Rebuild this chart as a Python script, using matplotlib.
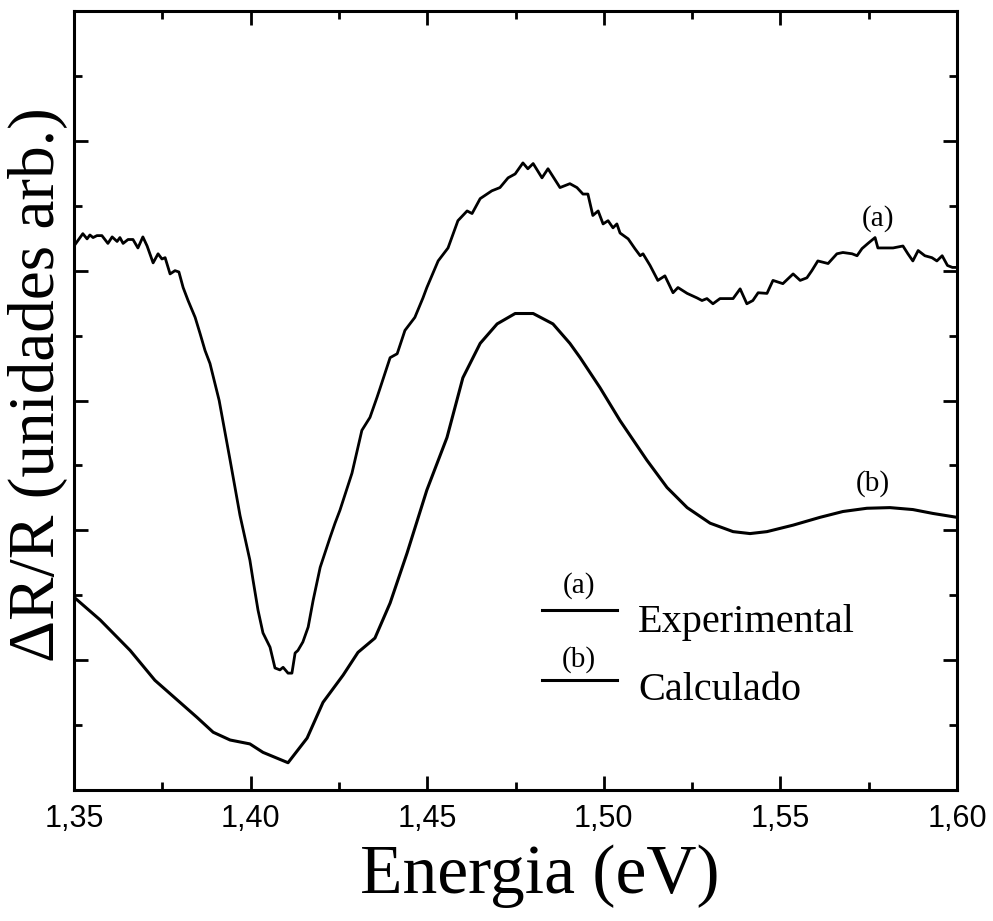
import matplotlib
matplotlib.use("Agg")
import matplotlib.pyplot as plt
from matplotlib.ticker import MultipleLocator, FixedLocator

# curve (a): experimental spectrum
energy_exp = [1.3500, 1.3517, 1.3525, 1.3537, 1.3545, 1.3554, 1.3565, 1.3579, 1.3596, 1.3608,
              1.3622, 1.3630, 1.3639, 1.3653, 1.3667, 1.3681, 1.3695, 1.3707, 1.3724, 1.3738,
              1.3749, 1.3758, 1.3772, 1.3786, 1.3797, 1.3809, 1.3823, 1.3843, 1.3857, 1.3871,
              1.3885, 1.3899, 1.3911, 1.3942, 1.3970, 1.3998, 1.4007, 1.4021, 1.4035, 1.4055,
              1.4069, 1.4083, 1.4092, 1.4106, 1.4117, 1.4126, 1.4134, 1.4148, 1.4163, 1.4177,
              1.4197, 1.4225, 1.4239, 1.4253, 1.4287, 1.4315, 1.4338, 1.4358, 1.4366, 1.4395,
              1.4415, 1.4437, 1.4465, 1.4488, 1.4499, 1.4531, 1.4559, 1.4587, 1.4613, 1.4627,
              1.4650, 1.4683, 1.4706, 1.4729, 1.4749, 1.4771, 1.4785, 1.4800, 1.4825, 1.4842,
              1.4876, 1.4904, 1.4924, 1.4941, 1.4955, 1.4969, 1.4984, 1.4998, 1.5012, 1.5026,
              1.5037, 1.5046, 1.5069, 1.5088, 1.5103, 1.5111, 1.5131, 1.5153, 1.5173, 1.5196,
              1.5210, 1.5236, 1.5264, 1.5278, 1.5292, 1.5309, 1.5329, 1.5349, 1.5366, 1.5386,
              1.5405, 1.5422, 1.5437, 1.5462, 1.5479, 1.5507, 1.5536, 1.5556, 1.5575, 1.5589,
              1.5606, 1.5635, 1.5660, 1.5677, 1.5703, 1.5717, 1.5731, 1.5748, 1.5768, 1.5776,
              1.5796, 1.5819, 1.5847, 1.5861, 1.5875, 1.5890, 1.5909, 1.5929, 1.5943, 1.5958,
              1.5973, 1.5987, 1.6000]
dr_exp = [8.38, 8.51, 8.57, 8.49, 8.55, 8.51, 8.54, 8.54, 8.42, 8.52,
          8.45, 8.51, 8.42, 8.48, 8.48, 8.35, 8.52, 8.38, 8.12, 8.26,
          8.18, 8.20, 7.95, 8.00, 7.98, 7.74, 7.54, 7.28, 7.03, 6.77,
          6.57, 6.26, 6.00, 5.08, 4.23, 3.54, 3.23, 2.77, 2.42, 2.20,
          1.88, 1.85, 1.89, 1.80, 1.80, 2.11, 2.15, 2.28, 2.51, 2.92,
          3.43, 3.89, 4.11, 4.31, 4.88, 5.54, 5.74, 6.05, 6.18, 6.66,
          6.72, 7.08, 7.28, 7.58, 7.74, 8.15, 8.35, 8.77, 8.92, 8.88,
          9.11, 9.23, 9.28, 9.43, 9.49, 9.66, 9.57, 9.65, 9.43, 9.57,
          9.28, 9.34, 9.28, 9.18, 9.18, 8.85, 8.92, 8.72, 8.77, 8.66,
          8.72, 8.58, 8.49, 8.34, 8.23, 8.26, 8.08, 7.85, 7.92, 7.66,
          7.74, 7.65, 7.58, 7.54, 7.57, 7.49, 7.57, 7.57, 7.57, 7.72,
          7.49, 7.54, 7.66, 7.65, 7.85, 7.80, 7.95, 7.85, 7.89, 8.00,
          8.15, 8.11, 8.26, 8.28, 8.26, 8.23, 8.34, 8.42, 8.51, 8.35,
          8.35, 8.35, 8.38, 8.26, 8.15, 8.31, 8.23, 8.20, 8.15, 8.23,
          8.08, 8.05, 8.05]

# curve (b): calculated spectrum
energy_calc = [1.3500, 1.3574, 1.3659, 1.3729, 1.3800, 1.3848, 1.3894, 1.3942, 1.3998, 1.4035,
               1.4106, 1.4160, 1.4205, 1.4262, 1.4304, 1.4352, 1.4395, 1.4443, 1.4499, 1.4556,
               1.4601, 1.4650, 1.4698, 1.4749, 1.4800, 1.4856, 1.4904, 1.4933, 1.4989, 1.5046,
               1.5122, 1.5179, 1.5236, 1.5301, 1.5366, 1.5414, 1.5462, 1.5536, 1.5612, 1.5677,
               1.5745, 1.5810, 1.5875, 1.5932, 1.6000]
dr_calc = [2.97, 2.62, 2.15, 1.69, 1.35, 1.12, 0.89, 0.77, 0.71, 0.58,
           0.42, 0.80, 1.35, 1.77, 2.12, 2.34, 2.88, 3.65, 4.62, 5.43,
           6.35, 6.88, 7.18, 7.34, 7.34, 7.18, 6.88, 6.66, 6.20, 5.69,
           5.08, 4.66, 4.35, 4.11, 3.98, 3.95, 3.98, 4.08, 4.20, 4.29,
           4.34, 4.35, 4.32, 4.26, 4.20]

xticks = [1.35, 1.40, 1.45, 1.50, 1.55, 1.60]
xtick_labels = ["1,35", "1,40", "1,45", "1,50", "1,55", "1,60"]

serif = "Liberation Serif"
sans = "Liberation Sans"

fig = plt.figure(figsize=(9.93, 9.21), dpi=100)
ax = fig.add_axes([74 / 993, 1 - 790 / 921, 883 / 993, 779 / 921])

ax.plot(energy_exp, dr_exp, color="black", lw=2.0)
ax.plot(energy_calc, dr_calc, color="black", lw=2.2)

ax.set_xlim(1.35, 1.60)
ax.set_ylim(0, 12)

ax.xaxis.set_major_locator(FixedLocator(xticks))
ax.set_xticklabels(xtick_labels, fontfamily=sans, fontsize=22)
ax.xaxis.set_minor_locator(MultipleLocator(0.025))
ax.yaxis.set_major_locator(FixedLocator([2, 4, 6, 8, 10]))
ax.yaxis.set_minor_locator(FixedLocator([1, 3, 5, 7, 9, 11]))
ax.tick_params(which="both", direction="in", top=True, right=True, width=2.0,
               labelleft=False, pad=10)
ax.tick_params(which="major", length=10)
ax.tick_params(which="minor", length=6)
for sp in ax.spines.values():
    sp.set_linewidth(2.2)

# curve labels
ax.text(1.5776, 8.80, "(a)", fontfamily=serif, fontsize=21, ha="center", va="center")
ax.text(1.5762, 4.72, "(b)", fontfamily=serif, fontsize=21, ha="center", va="center")

# hand-made legend
tr = ax.transAxes
ax.plot([0.530, 0.615], [0.231, 0.231], color="black", lw=2.2, transform=tr)
ax.plot([0.530, 0.615], [0.141, 0.141], color="black", lw=2.2, transform=tr)
ax.text(0.572, 0.262, "(a)", fontfamily=serif, fontsize=21, ha="center", va="center", transform=tr)
ax.text(0.572, 0.167, "(b)", fontfamily=serif, fontsize=21, ha="center", va="center", transform=tr)
ax.text(0.639, 0.203, "Experimental", fontfamily=serif, fontsize=29, ha="left", va="baseline", transform=tr)
ax.text(0.639, 0.1155, "Calculado", fontfamily=serif, fontsize=29, ha="left", va="baseline", transform=tr)

# axis titles
fig.text(540 / 993, 1 - 893 / 921, "Energia (eV)", fontfamily=serif, fontsize=50,
         ha="center", va="baseline")
fig.text(38 / 993, 1 - 385 / 921, "ΔR/R (unidades arb.)", fontfamily=serif, fontsize=47,
         rotation=90, ha="center", va="center")

fig.savefig("out.png", dpi=100, facecolor="white")
